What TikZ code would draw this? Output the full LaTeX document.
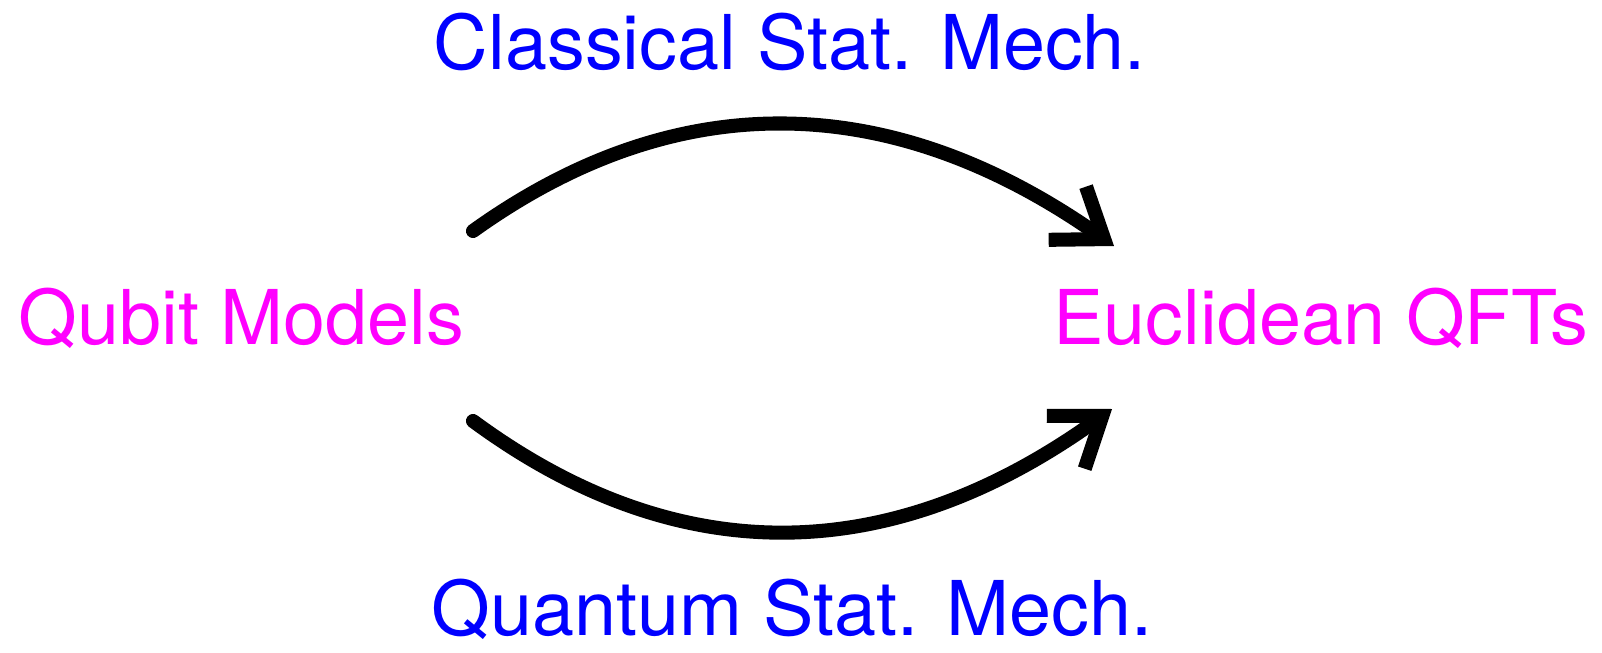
\documentclass[tikz,border=0pt]{standalone}
\usepackage{fontspec}
\setmainfont{TeX Gyre Heros}
\usepackage{xcolor}
\usepackage{tikz}
\usetikzlibrary{arrows.meta,positioning}

\definecolor{qblue}{RGB}{0,0,255}
\definecolor{qmag}{RGB}{255,0,255}

\begin{document}
\begin{tikzpicture}[
    every node/.style={inner sep=0pt, font=\fontsize{21.5}{25}\selectfont},
    model/.style={text=qmag},
    route/.style={text=qblue},
    arrow/.style={-{Straight Barb[length=4.5mm,width=6.5mm]}, line width=4pt, line cap=round, line join=round}
]
\useasboundingbox (0,0) rectangle (16.02,6.52);
\node[model, anchor=base west] (qubit) at (0.18,3.07) {Qubit Models};
\node[model, anchor=base east] (qft) at (15.89,3.07) {Euclidean QFTs};
\node[route, anchor=base] (classical) at (7.9,5.82) {Classical Stat. Mech.};
\node[route, anchor=base] (quantum) at (7.92,0.17) {Quantum Stat. Mech.};
% arrow ends
\coordinate (cs) at (4.73,4.21);
\coordinate (ce) at (11.14,4.06);
\coordinate (qs) at (4.73,2.31);
\coordinate (qe) at (11.12,2.43);
\draw[arrow] (cs) .. controls (6.78,5.68) and (8.92,5.62) .. (ce);
\draw[arrow] (qs) .. controls (6.78,0.80) and (8.91,0.84) .. (qe);
\end{tikzpicture}
\end{document}
